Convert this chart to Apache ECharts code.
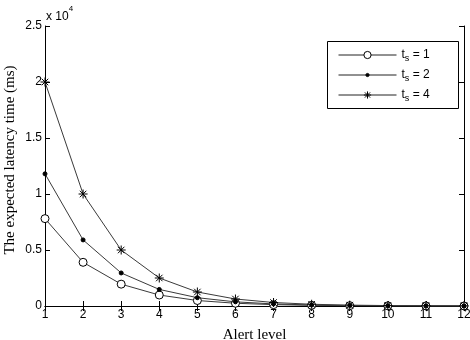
<!DOCTYPE html>
<html>
<head>
<meta charset="utf-8">
<script src="https://cdn.jsdelivr.net/npm/echarts@6/dist/echarts.min.js"></script>
<style>
  html, body { margin: 0; padding: 0; background: #fff; }
  #chart { width: 470px; height: 340px; }
</style>
</head>
<body>
<div id="chart"></div>
<script>
// alert levels on the x axis
var alertLevels = [1, 2, 3, 4, 5, 6, 7, 8, 9, 10, 11, 12];
// expected latency (ms)
var ts1 = [7800, 3900, 1950, 980, 490, 245, 122, 61, 30, 15, 8, 4];
var ts2 = [11800, 5900, 2950, 1480, 740, 370, 185, 92, 46, 23, 12, 6];
var ts4 = [20000, 10000, 5000, 2500, 1250, 625, 312, 156, 78, 39, 20, 10];
var seriesNames = ['ts1', 'ts2', 'ts4'];
var legendText = { ts1: '1', ts2: '2', ts4: '4' };

var chart = echarts.init(document.getElementById('chart'));

function pairs(vals) {
  return alertLevels.map(function (x, i) { return [x, vals[i]]; });
}

var starPath = 'path://M0,-5L0,5M-5,0L5,0M-3.6,-3.6L3.6,3.6M-3.6,3.6L3.6,-3.6';
var tickFont = { fontFamily: 'Liberation Sans', fontSize: 12, color: '#000' };
var titleFont = { fontFamily: 'Liberation Serif', fontSize: 15, color: '#000' };

function axisCommon(showLabel) {
  return {
    axisLine: { show: true, lineStyle: { color: '#000', width: 1 } },
    axisTick: { show: true, inside: true, length: 5, lineStyle: { color: '#000' } },
    splitLine: { show: false },
    axisLabel: Object.assign({ show: showLabel, margin: 3 }, tickFont)
  };
}

var xBottom = Object.assign(axisCommon(true), {
  type: 'value', min: 1, max: 12, interval: 1, position: 'bottom',
  name: 'Alert level', nameLocation: 'middle', nameGap: 22,
  nameTextStyle: titleFont
});
var xTop = Object.assign(axisCommon(false), {
  type: 'value', min: 1, max: 12, interval: 1, position: 'top'
});
var yLeft = Object.assign(axisCommon(true), {
  type: 'value', min: 0, max: 25000, interval: 5000, position: 'left',
  name: 'The expected latency time (ms)', nameLocation: 'middle', nameGap: 27,
  nameMoveOverlap: false,
  nameTextStyle: Object.assign({ padding: [0, 0, 0, 12] }, titleFont)
});
yLeft.axisLabel.formatter = function (v) { return String(v / 10000); };
var yRight = Object.assign(axisCommon(false), {
  type: 'value', min: 0, max: 25000, interval: 5000, position: 'right'
});

function lineSeries(name, vals, symbol, size, hollow) {
  return {
    name: name,
    type: 'line',
    xAxisIndex: 0,
    yAxisIndex: 0,
    data: pairs(vals),
    symbol: symbol,
    symbolSize: size,
    showAllSymbol: true,
    animation: false,
    lineStyle: { color: '#3a3a3a', width: 1 },
    itemStyle: {
      color: hollow ? '#fff' : '#000',
      borderColor: '#000',
      borderWidth: 1
    }
  };
}

// one legend per row so each row can keep its own marker size
var legendRows = [
  { name: 'ts1', top: 49, h: 9, fill: '#fff' },
  { name: 'ts2', top: 69, h: 4, fill: '#000' },
  { name: 'ts4', top: 89, h: 9, fill: 'transparent' }
];
var legends = legendRows.map(function (r) {
  return {
    data: [{ name: r.name, itemStyle: { color: r.fill, borderColor: '#000', borderWidth: 1 } }],
    left: 338,
    top: r.top,
    padding: 0,
    itemWidth: 58,
    itemHeight: r.h,
    itemGap: 4,
    z: 6,
    lineStyle: { width: 1, color: '#222' },
    formatter: function (name) {
      return '{t|t}{s|s}{t| = ' + legendText[name] + '}';
    },
    textStyle: {
      rich: {
        t: { fontFamily: 'Liberation Sans', fontSize: 12, color: '#000' },
        s: { fontFamily: 'Liberation Sans', fontSize: 9, color: '#000', verticalAlign: 'bottom', padding: [7, 0, 0, 0] }
      }
    }
  };
});

chart.setOption({
  backgroundColor: '#fff',
  grid: { left: 45, right: 6, top: 26, bottom: 34, outerBoundsMode: 'none', containLabel: false },
  xAxis: [xBottom, xTop],
  yAxis: [yLeft, yRight],
  legend: legends,
  graphic: [{
    type: 'rect',
    z: 5,
    shape: { x: 327.5, y: 41.5, width: 131, height: 67 },
    style: { fill: '#fff', stroke: '#000', lineWidth: 1 }
  }, {
    type: 'text',
    left: 46,
    top: 5,
    style: {
      text: '{a|x 10}{b|4}',
      rich: {
        a: { fontFamily: 'Liberation Sans', fontSize: 12, fill: '#000', padding: [6, 0, 0, 0] },
        b: { fontFamily: 'Liberation Sans', fontSize: 8, fill: '#000', verticalAlign: 'top' }
      }
    }
  }],
  series: [
    lineSeries('ts1', ts1, 'circle', 8, true),
    lineSeries('ts2', ts2, 'circle', 4, false),
    lineSeries('ts4', ts4, starPath, 9, false)
  ]
});
</script>
</body>
</html>
